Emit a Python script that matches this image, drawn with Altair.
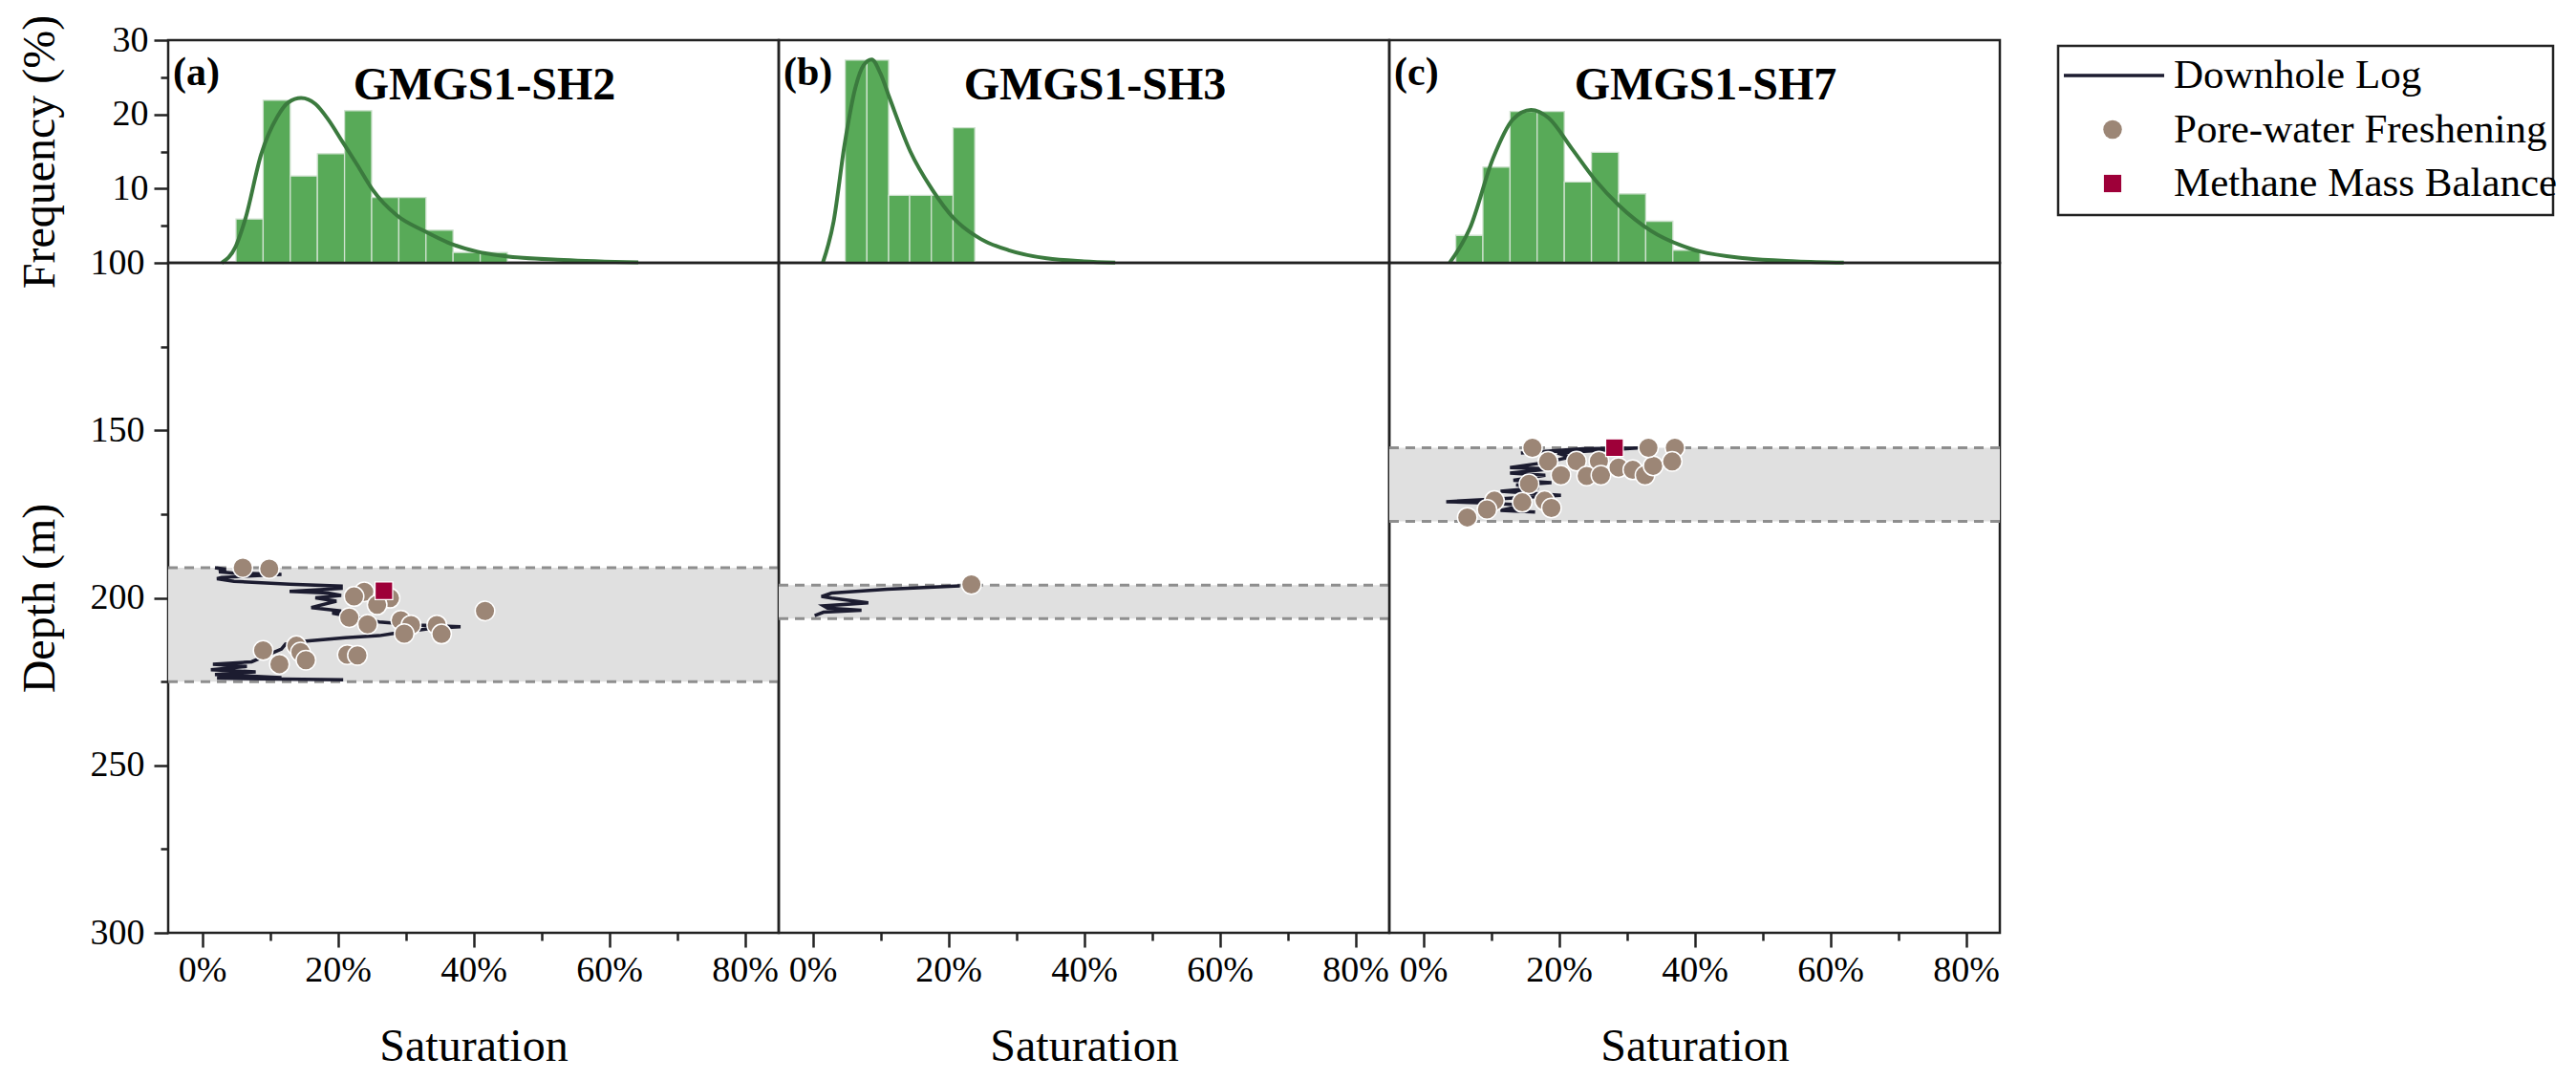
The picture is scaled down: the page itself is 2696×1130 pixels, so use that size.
import altair as alt
import pandas as pd

FONT = "Liberation Serif"
W = 639
H_HIST = 233
H_DEPTH = 701
X_DOMAIN = [-5, 85]

# ---------------- histogram data (Saturation %, Frequency %) ----------------
sh2_bin_start = [5, 9, 13, 17, 21, 25, 29, 33, 37, 41]
sh2_bin_end = [9, 13, 17, 21, 25, 29, 33, 37, 41, 45]
sh2_freq = [5.9, 21.9, 11.7, 14.7, 20.5, 8.8, 8.8, 4.4, 1.4, 1.4]
sh2_kde_x = [2.9, 4.9, 6.4, 8.7, 11.1, 12.7, 14.6, 16.7, 18.6, 20.7, 22.8, 25.1,
             28.7, 32.7, 36.6, 40.6, 44.6, 53.3, 64.3]
sh2_kde_y = [0, 2.1, 6.0, 14.6, 19.7, 21.6, 22.2, 21.4, 19.3, 16.3, 13.3, 9.9,
             6.4, 4.3, 2.6, 1.5, 0.9, 0.4, 0.05]

sh3_bin_start = [4.8, 8.0, 11.2, 14.3, 17.5, 20.7]
sh3_bin_end = [8.0, 11.2, 14.3, 17.5, 20.7, 23.9]
sh3_freq = [27.3, 27.3, 9.1, 9.1, 9.1, 18.2]
sh3_kde_x = [1.5, 3.1, 4.7, 6.3, 7.5, 8.7, 10.0, 11.3, 14.4, 17.6, 20.8, 24.8,
             28.9, 34.5, 40.0, 44.6]
sh3_kde_y = [0, 5.6, 15.9, 23.6, 26.6, 27.4, 25.5, 22.3, 15.0, 9.9, 6.0, 3.2,
             1.7, 0.6, 0.2, 0.03]

sh7_bin_start = [4.8, 8.8, 12.8, 16.8, 20.8, 24.8, 28.8, 32.8, 36.8]
sh7_bin_end = [8.8, 12.8, 16.8, 20.8, 24.8, 28.8, 32.8, 36.8, 40.8]
sh7_freq = [3.7, 12.9, 20.4, 20.4, 10.9, 14.9, 9.3, 5.6, 1.7]
sh7_kde_x = [3.9, 6.9, 10.3, 13.2, 15.9, 18.5, 21.9, 25.4, 28.9, 33.6, 39.4,
             47.5, 55.0, 62.0]
sh7_kde_y = [0, 4.7, 14.1, 19.3, 20.6, 19.5, 15.4, 11.1, 7.7, 4.3, 1.9, 0.6,
             0.2, 0.03]

# ---------------- depth data ----------------
# hydrate zone (top, bottom) depth in m
sh2_zone = [191.0, 225.0]
sh3_zone = [196.2, 206.2]
sh7_zone = [155.2, 177.2]

# downhole log (saturation %, depth m) in logging order
sh2_log_sat = [1.9, 3.5, 2.5, 4.4, 11.7, 2.9, 2.2, 4.7, 12.9, 20.5, 20.5, 12.9,
               18.6, 20.5, 16.7, 19.8, 16.1, 20.5, 19.2, 26.1, 31.8, 38.1, 33.7,
               28.0, 26.1, 21.1, 15.4, 12.3, 11.7, 7.3, 1.6, 6.6, 1.3, 7.9, 1.9,
               11.7, 2.2, 20.8]
sh2_log_depth = [191.0, 191.5, 192.2, 192.6, 193.0, 193.9, 194.3, 195.1, 195.9,
                 196.5, 197.2, 198.1, 198.6, 199.3, 200.0, 201.0, 202.9, 203.9,
                 204.6, 207.2, 208.1, 208.6, 209.1, 210.7, 211.3, 211.9, 212.9,
                 213.8, 215.3, 219.1, 219.8, 220.5, 221.5, 222.1, 222.9, 223.8,
                 224.0, 224.5]
sh2_pw_sat = [6.0, 9.9, 23.9, 22.4, 27.7, 25.8, 41.7, 21.7, 24.4, 29.3, 30.8,
              29.8, 34.6, 35.3, 9.0, 13.9, 14.5, 15.3, 11.4, 21.4, 22.9]
sh2_pw_depth = [191.0, 191.3, 198.2, 199.6, 200.1, 202.1, 203.9, 205.9, 207.9,
                206.7, 208.1, 210.7, 208.1, 210.8, 215.7, 214.3, 216.2, 218.6,
                219.8, 217.0, 217.2]
sh2_mb_sat = [26.8]
sh2_mb_depth = [197.9]

sh3_log_sat = [21.7, 11.0, 2.8, 1.3, 2.8, 8.2, 1.6, 2.2, 7.2, 1.6, 0.3]
sh3_log_depth = [196.4, 197.4, 198.6, 199.6, 200.1, 201.5, 202.4, 203.1, 203.7,
                 204.3, 205.3]
sh3_pw_sat = [23.4]
sh3_pw_depth = [196.0]
sh3_mb_sat = []
sh3_mb_depth = []

sh7_log_sat = [14.4, 23.6, 31.6, 19.8, 21.7, 18.0, 12.8, 18.9, 12.8, 18.0, 13.3,
               18.9, 13.7, 17.0, 11.4, 20.3, 14.2, 3.4, 9.0, 15.1, 11.4, 16.5]
sh7_log_depth = [156.8, 155.5, 155.3, 156.8, 158.0, 159.6, 161.1, 161.5, 162.8,
                 163.4, 164.9, 165.6, 166.3, 167.2, 168.2, 169.4, 170.1, 171.3,
                 171.7, 172.3, 173.9, 174.4]
sh7_pw_sat = [16.1, 18.4, 22.6, 25.9, 20.3, 24.1, 26.2, 28.8, 30.9, 32.7, 33.9,
              33.2, 37.1, 36.7, 15.6, 10.5, 9.4, 14.6, 17.9, 18.9, 6.5]
sh7_pw_depth = [155.2, 159.3, 159.2, 159.2, 163.4, 163.6, 163.4, 161.1, 161.8,
                163.4, 160.6, 155.2, 155.2, 159.3, 166.0, 171.0, 173.6, 171.5,
                171.0, 173.2, 176.0]
sh7_mb_sat = [28.2]
sh7_mb_depth = [155.2]

panel_tags = ["(a)", "(b)", "(c)"]
site_names = ["GMGS1-SH2", "GMGS1-SH3", "GMGS1-SH7"]
legend_names = ["Downhole Log", "Pore-water Freshening", "Methane Mass Balance"]

# ---------------- styles ----------------
BAR_FILL = "#58aa58"
BAR_EDGE = "#cfe2cf"
KDE_COLOR = "#3b7a3e"
LOG_COLOR = "#1c1c30"
PW_COLOR = "#9c8676"
MB_COLOR = "#9e0039"
ZONE_FILL = "#e0e0e0"
ZONE_EDGE = "#8e8e8e"
FRAME = "#222222"

x_scale = alt.Scale(domain=X_DOMAIN, nice=False, zero=False)
freq_scale = alt.Scale(domain=[0, 30], nice=False, zero=False)
depth_scale = alt.Scale(domain=[100, 300], nice=False, zero=False, reverse=True)


def minor_dash(test):
    return {"condition": {"test": test, "value": [8, 40]}, "value": [40, 0]}


def freq_axis():
    return alt.Axis(
        values=[5, 10, 15, 20, 25, 30],
        labelExpr="datum.value % 10 == 0 ? datum.label : ''",
        tickDash=minor_dash("datum.value % 10 != 0"),
        labelPadding=6,
        title="Frequency (%)",
        titleX=-120,
        titleBaseline="alphabetic",
    )


def depth_axis():
    return alt.Axis(
        values=list(range(100, 301, 25)),
        labelExpr="datum.value % 50 == 0 ? datum.label : ''",
        tickDash=minor_dash("datum.value % 50 != 0"),
        labelPadding=10,
        title="Depth (m)",
        titleX=-120,
        titleBaseline="alphabetic",
    )


def sat_axis():
    return alt.Axis(
        values=list(range(0, 81, 10)),
        labelExpr="datum.value % 20 == 0 ? datum.value + '%' : ''",
        tickDash=minor_dash("datum.value % 20 != 0"),
        labelPadding=5,
        title="Saturation",
        titleY=133,
        titleBaseline="alphabetic",
    )


def hist_panel(starts, ends, freqs, kx, ky, tag, name, show_axis):
    bars_df = pd.DataFrame({"start": starts, "end": ends, "freq": freqs})
    kde_df = pd.DataFrame({"sat": kx, "freq": ky})
    yax = freq_axis() if show_axis else None
    bars = alt.Chart(bars_df).mark_rect(
        fill=BAR_FILL, stroke=BAR_EDGE, strokeWidth=1.3
    ).encode(
        x=alt.X("start:Q", scale=x_scale, axis=None),
        x2="end:Q",
        y=alt.Y("freq:Q", scale=freq_scale, axis=yax),
        y2=alt.datum(0),
    )
    kde = alt.Chart(kde_df).mark_line(
        color=KDE_COLOR, strokeWidth=4, interpolate="monotone"
    ).encode(x="sat:Q", y="freq:Q")
    tag_txt = alt.Chart(pd.DataFrame({"t": [tag]})).mark_text(
        font=FONT, fontSize=42, fontWeight="bold", align="left",
        baseline="middle", color="black"
    ).encode(text="t:N", x=alt.value(5), y=alt.value(34))
    name_txt = alt.Chart(pd.DataFrame({"t": [name]})).mark_text(
        font=FONT, fontSize=48, fontWeight="bold", align="center",
        baseline="alphabetic", color="black"
    ).encode(text="t:N", x=alt.value(331), y=alt.value(62))
    return alt.layer(bars, kde, tag_txt, name_txt).properties(width=W, height=H_HIST)


def depth_panel(zone, log_s, log_d, pw_s, pw_d, mb_s, mb_d, show_axis):
    zone_df = pd.DataFrame({"top": [zone[0]], "bottom": [zone[1]]})
    edge_df = pd.DataFrame({"d": zone})
    log_df = pd.DataFrame({"sat": log_s, "depth": log_d, "idx": list(range(len(log_s)))})
    pw_df = pd.DataFrame({"sat": pw_s, "depth": pw_d})
    mb_df = pd.DataFrame({"sat": mb_s, "depth": mb_d})
    yax = depth_axis() if show_axis else None
    band = alt.Chart(zone_df).mark_rect(fill=ZONE_FILL).encode(
        y=alt.Y("top:Q", scale=depth_scale, axis=yax),
        y2="bottom:Q",
        x=alt.value(0),
        x2=alt.value(W),
    )
    edges = alt.Chart(edge_df).mark_rule(
        color=ZONE_EDGE, strokeWidth=3, strokeDash=[10, 7]
    ).encode(y="d:Q", x=alt.value(0), x2=alt.value(W))
    log = alt.Chart(log_df).mark_line(color=LOG_COLOR, strokeWidth=3.5).encode(
        x=alt.X("sat:Q", scale=x_scale, axis=sat_axis()),
        y="depth:Q",
        order="idx:Q",
    )
    pw = alt.Chart(pw_df).mark_point(
        shape="circle", filled=True, size=420, fill=PW_COLOR, stroke="white",
        strokeWidth=1.5, opacity=1
    ).encode(x="sat:Q", y="depth:Q")
    layers = [band, edges, log, pw]
    if len(mb_s):
        mb = alt.Chart(mb_df).mark_point(
            shape="square", filled=True, size=340, fill=MB_COLOR, stroke="white",
            strokeWidth=1.2, opacity=1
        ).encode(x="sat:Q", y="depth:Q")
        layers.append(mb)
    return alt.layer(*layers).properties(width=W, height=H_DEPTH)


# ---------------- legend panel (4th column of the first row) ----------------
LEG_GAP = 61
LEG_W = 518
leg_df = pd.DataFrame({"name": legend_names})
leg_y = alt.Scale(type="point", domain=legend_names, range=[37, 150], padding=0)
leg_box = alt.Chart(leg_df).transform_filter(
    alt.datum.name == legend_names[0]
).mark_rect(fillOpacity=0, stroke=FRAME, strokeWidth=2.5).encode(
    x=alt.value(LEG_GAP), x2=alt.value(LEG_GAP + LEG_W),
    y=alt.value(6), y2=alt.value(183)
)
leg_line = alt.Chart(leg_df).transform_filter(
    alt.datum.name == legend_names[0]
).mark_rule(color=LOG_COLOR, strokeWidth=3.5).encode(
    y=alt.Y("name:N", scale=leg_y, axis=None),
    x=alt.value(LEG_GAP + 6), x2=alt.value(LEG_GAP + 111)
)
leg_pw = alt.Chart(leg_df).transform_filter(
    alt.datum.name == legend_names[1]
).mark_point(shape="circle", filled=True, size=380, fill=PW_COLOR, opacity=1,
             strokeWidth=0).encode(y="name:N", x=alt.value(LEG_GAP + 57))
leg_mb = alt.Chart(leg_df).transform_filter(
    alt.datum.name == legend_names[2]
).mark_point(shape="square", filled=True, size=330, fill=MB_COLOR, opacity=1,
             strokeWidth=0).encode(y="name:N", x=alt.value(LEG_GAP + 57))
leg_txt = alt.Chart(leg_df).mark_text(
    font=FONT, fontSize=43, align="left", baseline="middle", color="black"
).encode(y="name:N", text="name:N", x=alt.value(LEG_GAP + 121))
legend = alt.layer(leg_box, leg_line, leg_pw, leg_mb, leg_txt).properties(
    width=LEG_GAP + LEG_W, height=H_HIST, view=alt.ViewBackground(stroke=None)
)

# ---------------- assemble ----------------
h_a = hist_panel(sh2_bin_start, sh2_bin_end, sh2_freq, sh2_kde_x, sh2_kde_y,
                 panel_tags[0], site_names[0], True)
h_b = hist_panel(sh3_bin_start, sh3_bin_end, sh3_freq, sh3_kde_x, sh3_kde_y,
                 panel_tags[1], site_names[1], False)
h_c = hist_panel(sh7_bin_start, sh7_bin_end, sh7_freq, sh7_kde_x, sh7_kde_y,
                 panel_tags[2], site_names[2], False)

d_a = depth_panel(sh2_zone, sh2_log_sat, sh2_log_depth, sh2_pw_sat, sh2_pw_depth,
                  sh2_mb_sat, sh2_mb_depth, True)
d_b = depth_panel(sh3_zone, sh3_log_sat, sh3_log_depth, sh3_pw_sat, sh3_pw_depth,
                  sh3_mb_sat, sh3_mb_depth, False)
d_c = depth_panel(sh7_zone, sh7_log_sat, sh7_log_depth, sh7_pw_sat, sh7_pw_depth,
                  sh7_mb_sat, sh7_mb_depth, False)

chart = alt.concat(
    h_a, h_b, h_c, legend, d_a, d_b, d_c, columns=4, spacing=0, bounds="flush"
).properties(
    padding={"left": 8, "top": 5, "right": 5, "bottom": 5},
    background="white",
).configure_view(
    stroke=FRAME, strokeWidth=2.5
).configure_axis(
    domain=False,
    tickColor=FRAME,
    tickWidth=2.5,
    tickSize=15,
    labelFont=FONT,
    labelFontSize=38,
    labelColor="black",
    labelOverlap=False,
    labelFlush=False,
    titleFont=FONT,
    titleFontSize=48,
    titleFontWeight="normal",
    titleColor="black",
    grid=False,
)

chart.save("out.html", embed_options={"renderer": "svg", "actions": False})
